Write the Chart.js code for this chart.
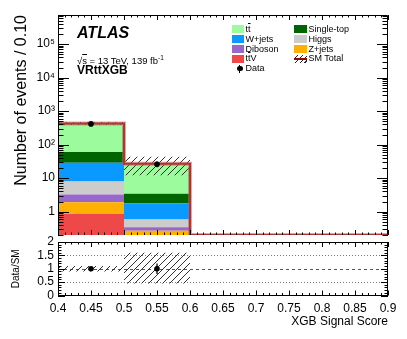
<!DOCTYPE html>
<html>
<head>
<meta charset="utf-8">
<script src="https://cdn.jsdelivr.net/npm/chart.js@4.4.0/dist/chart.umd.min.js"></script>
<style>
  html, body { margin: 0; padding: 0; background: #fff; }
  body { width: 407px; height: 339px; position: relative; overflow: hidden;
         font-family: 'Liberation Sans', Arial, Helvetica, sans-serif; color: #000; }
  .pad { position: absolute; left: 0; width: 407px; }
  #topPad { top: 0; height: 239px; }
  #ratioPad { top: 236px; height: 103px; }
  .txt { position: absolute; white-space: nowrap; }
  .ov { text-decoration: overline; }
  .leg { position: absolute; font-size: 9px; line-height: 9px; white-space: nowrap; }
  .box { position: absolute; width: 12px; height: 8px; }
</style>
</head>
<body>
<div id="topPad" class="pad"><canvas id="mainChart"></canvas></div>
<div id="ratioPad" class="pad"><canvas id="ratioChart"></canvas></div>

<div class="txt" style="left:77px;top:24.5px;font-size:16px;line-height:16px;font-weight:bold;font-style:italic;">ATLAS</div>
<div class="txt" style="left:77px;top:55.5px;font-size:9.5px;line-height:9.5px;">&radic;<span class="ov">s</span> = 13 TeV, 139 fb<span style="font-size:6.5px;line-height:0;position:relative;top:-3.5px;">-1</span></div>
<div class="txt" style="left:77px;top:63.5px;font-size:12px;line-height:12px;font-weight:bold;">VRttXGB</div>

<div id="legend"></div>

<script>
// ── Data ──
const binEdges   = [0.4, 0.5, 0.6, 0.7, 0.8, 0.9];
const binCenters = [0.45, 0.55, 0.65, 0.75, 0.85];

// stacked backgrounds, bottom to top
const ttV       = [0.85, 0.05, 0, 0, 0];
const zJets     = [1.05, 0.22, 0, 0, 0];
const diboson   = [1.35, 0.07, 0, 0, 0];
const higgs     = [4.7,  0.24, 0, 0, 0];
const wJets     = [21,   1.2,  0, 0, 0];
const singleTop = [31,   1.6,  0, 0, 0];
const ttbar     = [367,  23.6, 0, 0, 0];

const dataCounts = [415, 26];
const dataErr    = [20.4, 5.1];

const ratioVals = [1.0, 1.0];
const ratioErr  = [0.05, 0.2];
const bandLow   = [0.9, 0.45];
const bandHigh  = [1.1, 1.6];

const xTicks     = [0.4, 0.45, 0.5, 0.55, 0.6, 0.65, 0.7, 0.75, 0.8, 0.85, 0.9];
const yTicks     = [1, 10, 100, 1000, 10000, 100000];
const ratioTicks = [0, 0.5, 1, 1.5, 2];

const Y_MIN = 0.2, Y_MAX = 7.4e5;

const COLORS = {
  ttbar: '#9cfb9c', singleTop: '#006400', wJets: '#0a99ff', higgs: '#cccccc',
  diboson: '#9966cc', zJets: '#ffb000', ttV: '#ee4848', sm: '#8b0a0a'
};

Chart.defaults.font.family = "'Liberation Sans', Arial, Helvetica, sans-serif";
Chart.defaults.color = '#000';
Chart.defaults.animation = false;

function makeHatch(canvasId) {
  const c = document.createElement('canvas');
  c.width = 7; c.height = 7;
  const g = c.getContext('2d');
  g.strokeStyle = '#1a1a1a';
  g.lineWidth = 0.9;
  g.beginPath();
  g.moveTo(0, 7); g.lineTo(7, 0);
  g.moveTo(-1, 1); g.lineTo(1, -1);
  g.moveTo(6, 8); g.lineTo(8, 6);
  g.stroke();
  return document.getElementById(canvasId).getContext('2d').createPattern(c, 'repeat');
}

// fixed axis box, no edge padding for labels
const fixWidth = w => s => { s.width = w; s.paddingTop = 0; s.paddingBottom = 0; };
const fixHeight = h => s => { s.height = h; s.paddingLeft = 0; s.paddingRight = 0; };
const noGrid = { display: false, drawTicks: false, tickLength: 0 };

// ── inside ticks + frame, ATLAS style ──
const frameTicks = {
  id: 'frameTicks',
  beforeDatasetsDraw(chart) {
    const { ctx, chartArea: a } = chart;
    ctx.save();
    ctx.strokeStyle = '#000';
    ctx.lineWidth = 1;
    ctx.beginPath();
    ctx.moveTo(a.left, Math.round(a.bottom) - 0.5); ctx.lineTo(a.right, Math.round(a.bottom) - 0.5);
    ctx.stroke();
    ctx.restore();
  },
  afterDatasetsDraw(chart, args, o) {
    const { ctx, chartArea: a, scales } = chart;
    const xs = scales.x, ys = scales.y;
    ctx.save();
    ctx.strokeStyle = '#000';
    ctx.lineWidth = 1;
    ctx.beginPath();
    // x ticks (top and bottom)
    const nx = Math.round((xs.max - xs.min) / o.xMinor);
    for (let i = 0; i <= nx; i++) {
      const px = Math.round(xs.getPixelForValue(xs.min + i * o.xMinor)) + 0.5;
      const len = i % o.xEvery === 0 ? o.xMajorLen : o.xMinorLen;
      ctx.moveTo(px, a.bottom); ctx.lineTo(px, a.bottom - len);
      ctx.moveTo(px, a.top); ctx.lineTo(px, a.top + len);
    }
    // y ticks (left and right)
    const yv = [];
    if (o.yLog) {
      for (let k = Math.floor(Math.log10(ys.min)); k <= Math.ceil(Math.log10(ys.max)); k++) {
        for (let m = 1; m <= 9; m++) {
          const v = m * Math.pow(10, k);
          if (v >= ys.min && v <= ys.max) yv.push([v, m === 1]);
        }
      }
    } else {
      const ny = Math.round((ys.max - ys.min) / o.yMinor);
      for (let i = 0; i <= ny; i++) yv.push([ys.min + i * o.yMinor, i % o.yEvery === 0]);
    }
    yv.forEach(([v, major]) => {
      const py = Math.round(ys.getPixelForValue(v)) + 0.5;
      const len = major ? o.yMajorLen : o.yMinorLen;
      ctx.moveTo(a.left, py); ctx.lineTo(a.left + len, py);
      ctx.moveTo(a.right, py); ctx.lineTo(a.right - len, py);
    });
    ctx.stroke();
    // frame (bottom edge of main pad drawn before the datasets)
    const L = Math.round(a.left) + 0.5, R = Math.round(a.right) - 0.5;
    const T = Math.round(a.top) + 0.5, B = Math.round(a.bottom) - 0.5;
    ctx.beginPath();
    ctx.moveTo(L, B); ctx.lineTo(L, T); ctx.lineTo(R, T); ctx.lineTo(R, B);
    if (!o.openBottom) ctx.lineTo(L, B);
    ctx.stroke();
    ctx.restore();
  }
};

// ── vertical error bars on data points ──
const errorBars = {
  id: 'errorBars',
  afterDatasetsDraw(chart, args, o) {
    const meta = chart.getDatasetMeta(o.index);
    const ds = chart.data.datasets[o.index];
    const ys = chart.scales.y;
    const ctx = chart.ctx;
    ctx.save();
    ctx.strokeStyle = '#000';
    ctx.lineWidth = 1.3;
    meta.data.forEach((pt, i) => {
      const v = ds.data[i].y, e = o.errors[i];
      ctx.beginPath();
      ctx.moveTo(pt.x, ys.getPixelForValue(v + e));
      ctx.lineTo(pt.x, ys.getPixelForValue(Math.max(v - e, ys.min)));
      ctx.stroke();
    });
    ctx.restore();
  }
};

// ── reference lines in ratio panel ──
const refLines = {
  id: 'refLines',
  beforeDatasetsDraw(chart, args, o) {
    const { ctx, chartArea: a, scales: { y } } = chart;
    ctx.save();
    o.lines.forEach(l => {
      const py = Math.round(y.getPixelForValue(l.value)) + 0.5;
      ctx.strokeStyle = l.color;
      ctx.lineWidth = 1;
      ctx.setLineDash(l.dash);
      ctx.beginPath(); ctx.moveTo(a.left, py); ctx.lineTo(a.right, py); ctx.stroke();
    });
    ctx.restore();
  }
};

// ── main panel ──
const totals = binCenters.map((_, i) =>
  ttV[i] + zJets[i] + diboson[i] + higgs[i] + wJets[i] + singleTop[i] + ttbar[i]);

const pts = arr => binCenters.map((x, i) => ({ x, y: arr[i] }));
const stackSet = (label, arr, color) => ({
  type: 'bar', label, data: pts(arr), backgroundColor: color, borderWidth: 0,
  stack: 'mc', order: 3, grouped: false, categoryPercentage: 2, barPercentage: 1
});

const smLine = binEdges.map((x, i) => ({ x, y: Math.max(totals[Math.min(i, totals.length - 1)], Y_MIN) }));
const filled = binCenters.map((x, i) => i).filter(i => totals[i] > 0);

const mainHatch = makeHatch('mainChart');

new Chart(document.getElementById('mainChart'), {
  type: 'bar',
  data: {
    datasets: [
      stackSet('ttV', ttV, COLORS.ttV),
      stackSet('Z+jets', zJets, COLORS.zJets),
      stackSet('Diboson', diboson, COLORS.diboson),
      stackSet('Higgs', higgs, COLORS.higgs),
      stackSet('W+jets', wJets, COLORS.wJets),
      stackSet('Single-top', singleTop, COLORS.singleTop),
      stackSet('ttbar', ttbar, COLORS.ttbar),
      {
        type: 'bar', label: 'Uncertainty', stack: 'err', order: 2, grouped: false,
        categoryPercentage: 2, barPercentage: 1, borderWidth: 0, backgroundColor: mainHatch,
        data: filled.map(i => ({ x: binCenters[i], y: [totals[i] * bandLow[i], totals[i] * bandHigh[i]] }))
      },
      {
        type: 'line', label: 'halo', stack: 'halo', order: 1, data: smLine, stepped: true,
        borderColor: 'rgba(205,90,90,0.55)', borderWidth: 4, pointRadius: 0, fill: false
      },
      {
        type: 'line', label: 'SM Total', stack: 'sm', order: 1, data: smLine, stepped: true,
        borderColor: COLORS.sm, borderWidth: 2, pointRadius: 0, fill: false
      },
      {
        type: 'line', label: 'Data', stack: 'data', order: 0, showLine: false,
        data: dataCounts.map((y, i) => ({ x: binCenters[i], y })),
        pointRadius: 2.8, pointBackgroundColor: '#000', pointBorderWidth: 0
      }
    ]
  },
  options: {
    responsive: true,
    maintainAspectRatio: false,
    layout: { padding: { top: 15, right: 19, bottom: 2, left: 0 } },
    plugins: {
      legend: { display: false },
      tooltip: { enabled: false },
      frameTicks: { xMinor: 0.01, xEvery: 5, xMajorLen: 5, xMinorLen: 2.5,
                    yLog: true, yMajorLen: 11, yMinorLen: 5.5, openBottom: true },
      errorBars: { index: 10, errors: dataErr }
    },
    scales: {
      x: {
        type: 'linear', min: 0.4, max: 0.9, offset: false, display: false,
        afterBuildTicks: s => { s.ticks = xTicks.map(v => ({ value: v })); }
      },
      y: {
        type: 'logarithmic', min: Y_MIN, max: Y_MAX, stacked: true,
        afterBuildTicks: s => { s.ticks = yTicks.map(v => ({ value: v })); },
        afterFit: fixWidth(58),
        grid: noGrid,
        border: { display: false },
        ticks: {
          autoSkip: false, padding: 3, font: { size: 12 }, color: '#000',
          callback: v => {
            const sup = ['\u2070', '\u00b9', '\u00b2', '\u00b3', '\u2074', '\u2075', '\u2076'];
            const k = Math.round(Math.log10(v));
            return k === 0 ? '1' : k === 1 ? '10' : '10' + sup[k];
          }
        },
        title: {
          display: true, text: 'Number of events / 0.10', align: 'end',
          font: { size: 16 }, color: '#000', padding: { top: 12, bottom: 0 }
        }
      }
    }
  },
  plugins: [frameTicks, errorBars]
});

// ── ratio panel ──
const ratioHatch = makeHatch('ratioChart');

new Chart(document.getElementById('ratioChart'), {
  type: 'bar',
  data: {
    datasets: [
      {
        type: 'bar', label: 'Uncertainty', order: 2, grouped: false,
        categoryPercentage: 2, barPercentage: 1, borderWidth: 0, backgroundColor: ratioHatch,
        data: bandLow.map((lo, i) => ({ x: binCenters[i], y: [lo, bandHigh[i]] }))
      },
      {
        type: 'line', label: 'Data/SM', order: 0, showLine: false,
        data: ratioVals.map((y, i) => ({ x: binCenters[i], y })),
        pointRadius: 2.8, pointBackgroundColor: '#000', pointBorderWidth: 0
      }
    ]
  },
  options: {
    responsive: true,
    maintainAspectRatio: false,
    layout: { padding: { top: 6, right: 19, bottom: 0, left: 0 } },
    plugins: {
      legend: { display: false },
      tooltip: { enabled: false },
      frameTicks: { xMinor: 0.01, xEvery: 5, xMajorLen: 5, xMinorLen: 2.5,
                    yLog: false, yMinor: 0.1, yEvery: 5, yMajorLen: 7, yMinorLen: 3.5 },
      errorBars: { index: 1, errors: ratioErr },
      refLines: { lines: [
        { value: 0.5, dash: [1, 2], color: '#777' },
        { value: 1.0, dash: [3, 3], color: '#555' },
        { value: 1.5, dash: [1, 2], color: '#777' }
      ] }
    },
    scales: {
      x: {
        type: 'linear', min: 0.4, max: 0.9, offset: false,
        afterBuildTicks: s => { s.ticks = xTicks.map(v => ({ value: v })); },
        afterFit: fixHeight(43.5),
        grid: noGrid,
        border: { display: false },
        ticks: {
          autoSkip: false, maxRotation: 0, padding: 6, font: { size: 12 }, color: '#000',
          callback: v => String(+v.toFixed(2))
        },
        title: {
          display: true, text: 'XGB Signal Score', align: 'end',
          font: { size: 12 }, color: '#000', padding: { top: 0, bottom: 10 }
        }
      },
      y: {
        type: 'linear', min: 0, max: 2,
        afterBuildTicks: s => { s.ticks = ratioTicks.map(v => ({ value: v })); },
        afterFit: fixWidth(58),
        grid: noGrid,
        border: { display: false },
        ticks: { autoSkip: false, padding: 4, font: { size: 12 }, color: '#000',
                 callback: v => String(v) },
        title: {
          display: true, text: 'Data/SM', align: 'center',
          font: { size: 10 }, color: '#000', padding: { top: 10, bottom: 0 }
        }
      }
    }
  },
  plugins: [frameTicks, errorBars, refLines]
});

// ── legend (two columns) ──
const legendCol1 = [
  { html: 't<span class="ov">t</span>', color: COLORS.ttbar },
  { html: 'W+jets', color: COLORS.wJets },
  { html: 'Diboson', color: COLORS.diboson },
  { html: 't<span class="ov">t</span>V', color: COLORS.ttV },
  { html: 'Data', marker: 'data' }
];
const legendCol2 = [
  { html: 'Single-top', color: COLORS.singleTop },
  { html: 'Higgs', color: COLORS.higgs },
  { html: 'Z+jets', color: COLORS.zJets },
  { html: 'SM Total', marker: 'sm' }
];
const legRowY = [29.3, 39.1, 48.9, 58.7, 68.5];

function addLegend(items, boxX, textX, boxW) {
  const root = document.getElementById('legend');
  items.forEach((it, i) => {
    const c = legRowY[i];
    let sym;
    if (it.marker === 'data') {
      sym = `<div style="position:absolute;left:${boxX + 5}px;top:${c - 2.8}px;width:5.6px;height:5.6px;border-radius:50%;background:#000;"></div>` +
            `<div style="position:absolute;left:${boxX + 7.3}px;top:${c - 4}px;width:1px;height:8px;background:#000;"></div>`;
    } else if (it.marker === 'sm') {
      sym = `<div style="position:absolute;left:${boxX}px;top:${c - 4}px;width:${boxW}px;height:8px;` +
            `background:repeating-linear-gradient(135deg, transparent 0 2.5px, #222 2.5px 3.4px);"></div>` +
            `<div style="position:absolute;left:${boxX}px;top:${c - 1}px;width:${boxW}px;height:2px;background:${COLORS.sm};"></div>`;
    } else {
      sym = `<div class="box" style="left:${boxX}px;top:${c - 4}px;width:${boxW}px;background:${it.color};"></div>`;
    }
    root.insertAdjacentHTML('beforeend', sym +
      `<div class="leg" style="left:${textX}px;top:${c - 4.4}px;">${it.html}</div>`);
  });
}
addLegend(legendCol1, 232, 245.5, 12);
addLegend(legendCol2, 294, 308.5, 13);
</script>
</body>
</html>
